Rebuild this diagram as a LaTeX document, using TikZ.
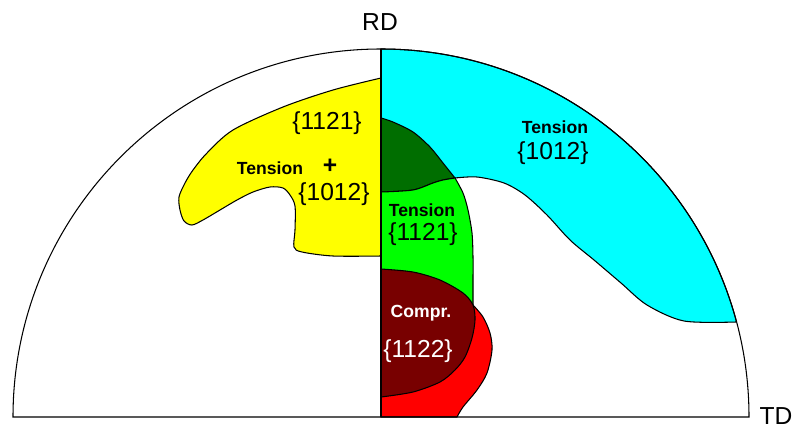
\documentclass[tikz,border=0pt]{standalone}
\usepackage{fontspec}
\setmainfont{Liberation Sans}
\usetikzlibrary{positioning}

\definecolor{yellowzone}{RGB}{255,255,0}
\definecolor{cyanzone}{RGB}{0,255,255}
\definecolor{darkzone}{RGB}{0,110,0}
\definecolor{greenzone}{RGB}{0,255,0}
\definecolor{redzone}{RGB}{255,0,0}
\definecolor{maroonzone}{RGB}{120,0,0}

\tikzset{
  zone/.style={draw=black, line width=0.6pt},
  lbl/.style={font=\fontsize{10}{12}\selectfont\bfseries, inner sep=0pt},
  idx/.style={font=\fontsize{14}{16}\selectfont, inner sep=0pt}
}

\begin{document}
\begin{tikzpicture}[x=0.02cm, y=-0.02cm]
			\useasboundingbox (0,0) rectangle (794,429);
			\fill[white] (0,0) rectangle (794,429);
			
			% Tension {1012}, right
			\draw[zone, fill=cyanzone] (381,49) arc[start angle=270, end angle=345, radius=368]
			  -- plot[smooth] coordinates {(736,322) (684,321) (647,305) (621,283) (594,260) (570,240) (547,215) (525,195) (504,183) (477,177) (455,178)}
			  -- (381,178) -- cycle;
			
			% dark green overlap
			\draw[zone, fill=darkzone] plot[smooth] coordinates {(381,118) (393,122) (413,132) (430,147) (443,163) (455,178)}
			  -- plot[smooth] coordinates {(455,178) (443,180) (433,183) (413,190) (381,192)} -- cycle;
			
			% Tension {1121}
			\draw[zone, fill=greenzone] (381,192) -- plot[smooth] coordinates {(381,192) (413,190) (433,183) (443,180) (455,178)}
			  -- plot[smooth] coordinates {(455,178) (463,193) (468,210) (472,233) (473,257) (473,280) (473,305)}
			  -- (381,290) -- cycle;
			
			% red ring
			\draw[zone, fill=redzone] (381,330) -- plot[smooth] coordinates {(473,305) (483,317) (490,333) (492,350) (487,373) (477,390) (463,407) (457,417)}
			  -- (381,417) -- cycle;
			
			% Compr. {1122}
			\draw[zone, fill=maroonzone] plot[smooth] coordinates {(381,269) (413,272) (440,280) (463,293) (473,305) (475,320) (472,338) (465,357) (455,370) (440,382) (413,392) (381,397)} -- cycle;
			
			% Tension {1121} + {1012}, left
			\draw[zone, fill=yellowzone] (381,78) -- plot[smooth] coordinates {(381,78) (333,90) (283,107) (233,130) (207,153) (193,170) (185,183) (179,197) (180,210) (184,221) (192,225) (203,220) (220,210) (237,200) (253,192) (270,187) (283,188) (290,195) (295,206) (295,230) (294,247) (302,252) (333,256) (381,256)} -- cycle;
			
			% Outline
			\draw[line width=0.6pt] (13,417) arc[start angle=180, end angle=360, radius=368] -- cycle;
			\draw[line width=0.6pt] (381,49) -- (381,417);
			
			% Labels
			\node[idx] (rd) at (380,22) {RD};
			\node[idx] (td) at (776,416) {TD};
			\node[idx] (ya) at (327,123) {\{1121\}};
			\node[lbl, font=\fontsize{14}{16}\selectfont\bfseries] (yplus) at (330,166) {+};
			\node[lbl] (yt) at (270,168) {Tension};
			\node[idx] (yb) at (334,194) {\{1012\}};
			\node[lbl] (ct) at (555,127) {Tension};
			\node[idx] (cb) at (553,153) {\{1012\}};
			\node[lbl] (gt) at (422,210) {Tension};
			\node[idx] (gb) at (423,234) {\{1121\}};
			\node[lbl, text=white] (mt) at (421,313) {Compr.};
			\node[idx, text=white] (mb) at (418,351) {\{1122\}};
		\end{tikzpicture}
\end{document}
